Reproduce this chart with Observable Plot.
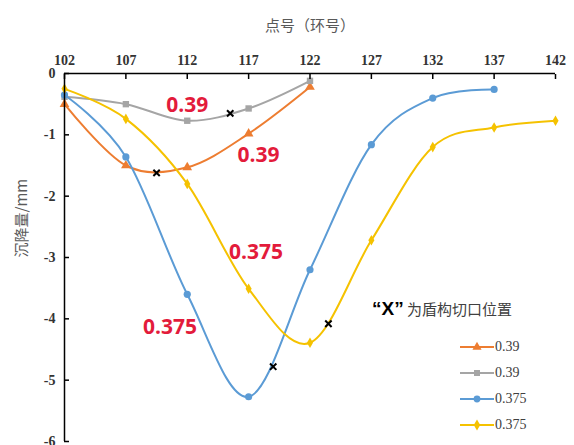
<!DOCTYPE html>
<html><head><meta charset="utf-8">
<script src="https://cdn.jsdelivr.net/npm/d3@7"></script>
<script src="https://cdn.jsdelivr.net/npm/@observablehq/plot@0.6"></script>
<style>
body{margin:0;background:#fff;}
#wrap{position:relative;width:574px;height:445px;overflow:hidden;}
#legend{position:absolute;left:0;top:0;width:574px;height:445px;pointer-events:none;}
.cap{position:absolute;left:372px;top:298px;font:15px "Noto Sans CJK SC";color:#404040;white-space:nowrap;}
.cap b{font-family:"Liberation Sans";font-size:19px;color:#000;}
.row{position:absolute;left:459px;height:20px;display:flex;align-items:center;font:14px "Times New Roman","Liberation Serif",serif;color:#404040;}
svg.plot text.tk{font-family:"Times New Roman","Liberation Serif",serif !important;}
</style></head>
<body><div id="wrap"><div id="legend"></div></div>
<script>
const rings = [102, 107, 112, 117, 122, 127, 132, 137, 142];
const seriesNames = ["0.39", "0.39", "0.375", "0.375"];
const orangeVals = [-0.5, -1.5, -1.53, -0.98, -0.22];
const grayVals = [-0.38, -0.5, -0.77, -0.57, -0.12];
const blueVals = [-0.35, -1.36, -3.6, -5.27, -3.2, -1.16, -0.4, -0.26];
const yellowVals = [-0.25, -0.74, -1.8, -3.51, -4.39, -2.72, -1.2, -0.88, -0.77];
const cutRings = [109.5, 115.5, 119, 123.5];
const cutVals = [-1.62, -0.65, -4.78, -4.08];
const noteText = ["0.39", "0.39", "0.375", "0.375"];
const noteRings = [112, 117.8, 117.6, 110.6];
const noteVals = [-0.52, -1.34, -2.92, -4.13];
const xTicks = [102, 107, 112, 117, 122, 127, 132, 137, 142];
const yTicks = [0, -1, -2, -3, -4, -5, -6];

const colors = ["#ED7D31", "#A5A5A5", "#5B9BD5", "#F5C200"];
const symbols = ["triangle", "square", "circle", "diamond"];
const allVals = [orangeVals, grayVals, blueVals, yellowVals];
const serif = "'Times New Roman', 'Liberation Serif', serif";

const marks = [];
allVals.forEach((vals, i) => {
  const data = vals.map((v, j) => ({x: rings[j], y: v}));
  marks.push(Plot.line(data, {x: "x", y: "y", stroke: colors[i], strokeWidth: 2, curve: "cardinal"}));
  marks.push(Plot.dot(data, {x: "x", y: "y", fill: colors[i], symbol: symbols[i], r: i === 3 ? 3.2 : 3.6}));
});
const cuts = cutRings.map((r, i) => ({x: r, y: cutVals[i]}));
marks.push(Plot.dot(cuts, {x: "x", y: "y", symbol: "times", stroke: "#000", strokeWidth: 2, r: 3}));
const notes = noteText.map((t, i) => ({x: noteRings[i], y: noteVals[i], t}));
marks.push(Plot.text(notes, {x: "x", y: "y", text: "t", fill: "#E31B3B", fontSize: 21, fontWeight: "bold", fontFamily: "Open Sans"}));

// axes
marks.push(Plot.ruleY([0], {stroke: "#000", strokeWidth: 1.5}));
marks.push(Plot.ruleX([102], {stroke: "#000", strokeWidth: 1.5}));
marks.push(Plot.axisX(xTicks, {anchor: "top", tickSize: -5, tickPadding: 14, fontSize: 14, fontFamily: serif, fontWeight: "bold", color: "#333", label: null, stroke: "#000", strokeWidth: 1.5}));
marks.push(Plot.axisY(yTicks, {anchor: "left", tickSize: -5, tickPadding: 14, fontSize: 14, fontFamily: serif, fontWeight: "bold", color: "#333", tickFormat: d => String(d), label: null, stroke: "#000", strokeWidth: 1.5}));
marks.push(Plot.text(["点号（环号）"], {frameAnchor: "top", dy: -53, fontSize: 15, fontFamily: "Noto Sans CJK SC", fill: "#595959"}));
marks.push(Plot.text(["沉降量/mm"], {frameAnchor: "left", dx: -42, rotate: -90, fontSize: 15, fontFamily: "Noto Sans CJK SC", fill: "#595959"}));

const chart = Plot.plot({
  width: 574, height: 445,
  marginTop: 73, marginLeft: 64, marginRight: 19, marginBottom: 4,
  x: {domain: [102, 142], axis: null},
  y: {domain: [-6, 0], axis: null},
  style: {background: "#fff", overflow: "visible", fontFamily: serif},
  marks
});
document.getElementById("wrap").prepend(chart);

// legend
const leg = document.getElementById("legend");
leg.innerHTML = '<div class="cap"><b>“X”</b> 为盾构切口位置</div>';
const rowsTop = [337, 363, 389, 415];
seriesNames.forEach((name, i) => {
  const row = document.createElement("div");
  row.className = "row";
  row.style.top = rowsTop[i] + "px";
  const sw = d3.create("svg").attr("width", 36).attr("height", 12);
  sw.append("line").attr("x1", 1).attr("x2", 35).attr("y1", 6).attr("y2", 6).attr("stroke", colors[i]).attr("stroke-width", 2);
  const symMap = {triangle: d3.symbolTriangle, square: d3.symbolSquare, circle: d3.symbolCircle, diamond: d3.symbolDiamond};
  sw.append("path").attr("d", d3.symbol(symMap[symbols[i]], 36)()).attr("transform", "translate(18,6)").attr("fill", colors[i]);
  row.appendChild(sw.node());
  const t = document.createElement("span");
  t.textContent = name;
  row.appendChild(t);
  leg.appendChild(row);
});
</script></body></html>
